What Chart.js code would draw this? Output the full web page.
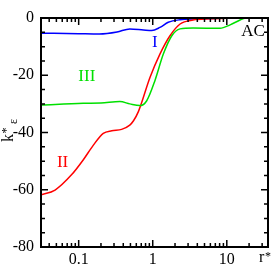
<!DOCTYPE html>
<html>
<head>
<meta charset="utf-8">
<script src="https://cdn.jsdelivr.net/npm/chart.js@4.4.0/dist/chart.umd.min.js"></script>
<style>
html, body { margin: 0; padding: 0; background: #fff; }
</style>
</head>
<body>
<canvas id="myChart" width="274" height="267"></canvas>
<script>
// curve I (blue)
const rI = [0.031, 0.1, 0.19, 0.33, 0.49, 0.75, 0.97, 1.25, 1.62, 2.34, 3.9, 8, 17]
const kI = [-5.3, -5.5, -5.6, -4.9, -3.8, -4.2, -4.4, -3.3, -1.5, -0.6, -0.3, -0.1, 0]

// curve II (red)
const rII = [0.031, 0.048, 0.08, 0.115, 0.158, 0.215, 0.28, 0.38, 0.49, 0.55, 0.64, 0.92, 1.25, 1.71, 2.34, 3.5, 6, 10, 17]
const kII = [-61.8, -60.1, -54.8, -49.6, -44.4, -40.3, -39.4, -38.9, -37.4, -35.9, -32.7, -20.7, -12.6, -6.2, -2.1, -0.7, -0.3, -0.1, 0]

// curve III (green)
const rIII = [0.031, 0.115, 0.2, 0.36, 0.49, 0.67, 0.83, 1.07, 1.39, 1.81, 2.34, 3.5, 8.1, 11.1, 15.1, 17.7]
const kIII = [-30.4, -29.8, -29.7, -29.2, -30.0, -30.6, -28.9, -21.9, -12.6, -6.2, -3.8, -3.5, -3.6, -2.4, -0.7, 0]

const xTicks = [0.1, 1, 10]
const yTicks = [-80, -60, -40, -20, 0]

const SERIF = "'Liberation Serif', 'DejaVu Serif', serif"

function pts(xs, ys) {
	return xs.map((v, i) => ({x: v, y: ys[i]}))
}

// labels in data coordinates
const notes = [
	{text: "I", x: 1.07, y: -8.4, color: "#0000ff"},
	{text: "III", x: 0.129, y: -20.3, color: "#00e000"},
	{text: "II", x: 0.0607, y: -50.6, color: "#ff0000"},
	{text: "AC", x: 22.6, y: -4.9, color: "#000000"}
]

const frame = {
	id: "frame",
	afterDraw(chart) {
		const {ctx, chartArea: a, scales} = chart
		const sx = scales.x, sy = scales.y
		ctx.save()
		ctx.strokeStyle = "#000"
		ctx.lineWidth = 1.5
		ctx.beginPath()
		// x ticks, top and bottom, pointing inward
		for (let d = 0.01; d < 100; d *= 10) {
			for (let m = 1; m <= 9; m++) {
				const v = d * m
				if (v <= sx.min || v >= sx.max) continue
				const px = sx.getPixelForValue(v)
				const len = m === 1 ? 7 : 4
				ctx.moveTo(px, a.bottom); ctx.lineTo(px, a.bottom - len)
				ctx.moveTo(px, a.top); ctx.lineTo(px, a.top + len)
			}
		}
		// y ticks, left and right
		for (let v = -80; v <= 0; v += 5) {
			const py = sy.getPixelForValue(v)
			const len = v % 20 === 0 ? 7 : 4
			ctx.moveTo(a.left, py); ctx.lineTo(a.left + len, py)
			ctx.moveTo(a.right, py); ctx.lineTo(a.right - len, py)
		}
		ctx.stroke()
		ctx.lineWidth = 2
		ctx.strokeRect(a.left, a.top, a.right - a.left, a.bottom - a.top)

		// curve labels
		ctx.font = "17px " + SERIF
		ctx.textAlign = "center"
		ctx.textBaseline = "middle"
		notes.forEach(n => {
			ctx.fillStyle = n.color
			ctx.fillText(n.text, sx.getPixelForValue(n.x), sy.getPixelForValue(n.y))
		})

		// x axis title r*
		ctx.fillStyle = "#000"
		ctx.textAlign = "left"
		ctx.textBaseline = "alphabetic"
		ctx.font = "16px " + SERIF
		ctx.fillText("r", a.right - 9, 262)
		ctx.font = "12px " + SERIF
		ctx.fillText("*", a.right - 3, 260)

		// y axis title k*_eps
		ctx.translate(13, 142)
		ctx.rotate(-Math.PI / 2)
		ctx.font = "16px " + SERIF
		ctx.fillText("k", 0, 0)
		const w = ctx.measureText("k").width
		ctx.font = "12px " + SERIF
		ctx.fillText("*", w + 0.5, -3)
		const ws = ctx.measureText("*").width
		ctx.fillText("ε", w + ws + 4, 4)
		ctx.restore()
	}
}

function line(data, color) {
	return {
		data: data,
		borderColor: color,
		borderWidth: 1.5,
		pointRadius: 0,
		fill: false,
		showLine: true,
		cubicInterpolationMode: "monotone"
	}
}

new Chart("myChart", {
	type: "scatter",
	data: {
		datasets: [
			line(pts(rIII, kIII), "#00e000"),
			line(pts(rII, kII), "#ff0000"),
			line(pts(rI, kI), "#0000ff")
		]
	},
	options: {
		responsive: false,
		animation: false,
		layout: {padding: {top: 18, right: 6, left: 0, bottom: 0}},
		plugins: {
			legend: {display: false},
			tooltip: {enabled: false}
		},
		scales: {
			x: {
				type: "logarithmic",
				min: 0.031,
				max: 36,
				grid: {display: false, drawTicks: false},
				border: {display: false},
				afterBuildTicks: s => { s.ticks = xTicks.map(v => ({value: v})) },
				afterFit: s => { s.height = 20 },
				ticks: {
					autoSkip: false,
					maxRotation: 0,
					padding: 3,
					color: "#000",
					font: {family: SERIF, size: 16},
					callback: v => String(v)
				}
			},
			y: {
				min: -80,
				max: 0,
				grid: {display: false, drawTicks: false},
				border: {display: false},
				afterBuildTicks: s => { s.ticks = yTicks.map(v => ({value: v})) },
				afterFit: s => { s.width = 41 },
				ticks: {
					padding: 7,
					color: "#000",
					font: {family: SERIF, size: 16},
					callback: v => String(v)
				}
			}
		}
	},
	plugins: [frame]
})
</script>
</body>
</html>
